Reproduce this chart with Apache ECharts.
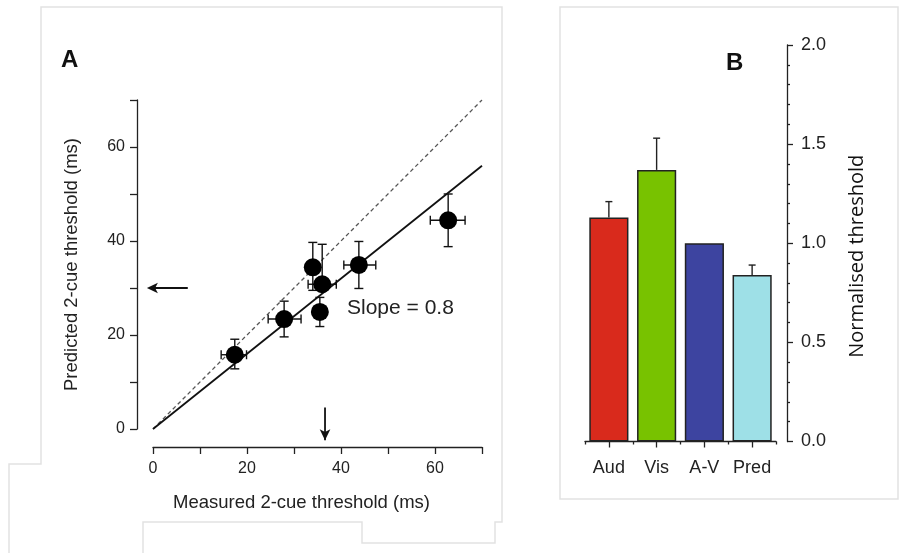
<!DOCTYPE html>
<html><head><meta charset="utf-8">
<script src="https://cdn.jsdelivr.net/npm/echarts@6/dist/echarts.min.js"></script>
<style>html,body{margin:0;padding:0;background:#fff}#c{width:899px;height:553px}</style>
</head><body><div id="c"></div>
<script>
// ---- Panel A data ----
const measured   = [17.4, 27.9, 34.0, 36.0, 35.5, 43.8, 62.8];
const predicted  = [15.8, 23.4, 34.4, 30.8, 24.9, 34.9, 44.4];
const measLo     = [14.5, 24.5, 32.8, 33.0, 34.5, 40.6, 59.0];
const measHi     = [19.9, 31.5, 35.2, 39.0, 36.5, 47.4, 66.4];
const predLo     = [12.8, 19.6, 29.5, 29.5, 21.8, 29.9, 38.8];
const predHi     = [19.1, 27.2, 39.7, 39.3, 28.0, 39.9, 50.0];
const fitX       = [0, 70];
const fitY       = [0, 56];
const unityX     = [0, 70];
const unityY     = [0, 70];
const arrowH     = [[7.4, 30], [-1.3, 30]];
const arrowV     = [[36.6, 4.6], [36.6, -2.4]];
const ticksA     = [0, 20, 40, 60];
// ---- Panel B data ----
const categoriesB = ['Aud', 'Vis', 'A-V', 'Pred'];
const valuesB     = [1.13, 1.37, 1.00, 0.84];
const errTopB     = [1.21, 1.53, null, 0.89];
const colorsB     = ['#d92a1c', '#78c200', '#3d44a0', '#9ee0e7'];
const ticksB      = [0, 0.5, 1.0, 1.5, 2.0];

const FONT = '"Liberation Sans", Arial, Helvetica, sans-serif';
const chart = echarts.init(document.getElementById('c'), null, {renderer: 'canvas'});

const errDataA = measured.map((m, i) => [m, predicted[i], measLo[i], measHi[i], predLo[i], predHi[i]]);
const errDataB = valuesB.map((v, i) => [i, v, errTopB[i]]);

const lineStyleBlack = {stroke: '#111', lineWidth: 1.4};

function arrowSeries(pts, rot) {
  return {type: 'line', xAxisIndex: 0, yAxisIndex: 0, data: pts, clip: false, z: 6, silent: true,
    showAllSymbol: true,
    symbol: (v, p) => p.dataIndex === pts.length - 1 ? 'arrow' : 'none',
    symbolSize: [8, 11], symbolRotate: rot,
    itemStyle: {color: '#111'},
    lineStyle: {color: '#111', width: 1.8}};
}

const option = {
  backgroundColor: '#fff',
  animation: false,
  textStyle: {fontFamily: FONT},
  graphic: [
    {type: 'polyline', shape: {points: [[9,553],[9,464],[41,464],[41,7],[502,7],[502,522],[495,522],[495,543],[362,543],[362,522],[143,522],[143,553]]},
     style: {stroke: '#e2e2e2', lineWidth: 1.5, fill: null}, z: -10},
    {type: 'rect', shape: {x: 560, y: 7, width: 338, height: 492}, style: {stroke: '#e2e2e2', lineWidth: 1.5, fill: null}, z: -10},
    {type: 'text', left: 61, top: 48, style: {text: 'A', font: 'bold 24px ' + FONT, fill: '#111'}},
    {type: 'text', left: 726, top: 51, style: {text: 'B', font: 'bold 24px ' + FONT, fill: '#111'}},
    {type: 'text', left: 347, top: 298, style: {text: 'Slope = 0.8', font: '21px ' + FONT, fill: '#222'}}
  ],
  grid: [
    {left: 153, right: 417, top: 100, bottom: 124},
    {left: 585, right: 123, top: 45, bottom: 111.5}
  ],
  xAxis: [
    {gridIndex: 0, type: 'value', min: 0, max: 70, interval: 10, offset: 18,
     axisLine: {show: true, onZero: false, lineStyle: {color: '#222', width: 1.3}},
     axisTick: {show: true, length: 7, lineStyle: {color: '#222', width: 1.3}},
     axisLabel: {fontSize: 16, color: '#222', margin: 14, formatter: v => ticksA.includes(v) ? String(v) : ''},
     splitLine: {show: false},
     name: 'Measured 2-cue threshold (ms)', nameLocation: 'middle', nameGap: 46,
     nameTextStyle: {fontSize: 18.5, color: '#222', padding: [0, 32, 0, 0]}},
    {gridIndex: 1, type: 'category', data: categoriesB, position: 'bottom',
     axisLine: {show: true, onZero: false, lineStyle: {color: '#222', width: 1.3}},
     axisTick: {show: true, alignWithLabel: true, length: 6, lineStyle: {color: '#222', width: 1.3}},
     axisLabel: {fontSize: 18, color: '#222', margin: 18, interval: 0},
     splitLine: {show: false}},
    {gridIndex: 1, type: 'category', data: categoriesB, position: 'bottom',
     axisLine: {show: false},
     axisTick: {show: true, interval: 0, length: 3, lineStyle: {color: '#222', width: 1.3}},
     axisLabel: {show: false}, splitLine: {show: false}}
  ],
  yAxis: [
    {gridIndex: 0, type: 'value', min: 0, max: 70, interval: 10, offset: 16,
     axisLine: {show: true, onZero: false, lineStyle: {color: '#222', width: 1.3}},
     axisTick: {show: true, length: 7, lineStyle: {color: '#222', width: 1.3}},
     axisLabel: {fontSize: 16, color: '#222', margin: 12, formatter: v => ticksA.includes(v) ? String(v) : ''},
     splitLine: {show: false},
     name: 'Predicted 2-cue threshold (ms)', nameLocation: 'middle', nameGap: 56,
     nameTextStyle: {fontSize: 18.5, color: '#222'}},
    {gridIndex: 1, type: 'value', position: 'right', min: 0, max: 2, interval: 0.5, offset: 11,
     axisLine: {show: true, onZero: false, lineStyle: {color: '#222', width: 1.3}},
     axisTick: {show: true, length: 6, lineStyle: {color: '#222', width: 1.3}},
     minorTick: {show: true, splitNumber: 5, length: 3, lineStyle: {color: '#222', width: 1.3}},
     axisLabel: {fontSize: 18, color: '#222', margin: 14, formatter: v => ticksB.includes(v) ? v.toFixed(1) : ''},
     splitLine: {show: false}, minorSplitLine: {show: false},
     name: 'Normalised threshold', nameLocation: 'middle', nameGap: 60,
     nameTextStyle: {fontSize: 20, color: '#111', fontFamily: '"Open Sans", sans-serif', padding: [0, 26, 0, 0]}}
  ],
  series: [
    {type: 'line', xAxisIndex: 0, yAxisIndex: 0, data: unityX.map((x, i) => [x, unityY[i]]),
     symbol: 'none', lineStyle: {color: '#555', width: 1.3, type: [4, 3]}, z: 2},
    {type: 'line', xAxisIndex: 0, yAxisIndex: 0, data: fitX.map((x, i) => [x, fitY[i]]),
     symbol: 'none', lineStyle: {color: '#111', width: 1.8}, z: 3},
    {type: 'custom', xAxisIndex: 0, yAxisIndex: 0, data: errDataA, z: 4,
     renderItem: (params, api) => {
       const x = api.value(0), y = api.value(1);
       const a = api.coord([api.value(2), y]), b = api.coord([api.value(3), y]);
       const c = api.coord([x, api.value(4)]), d = api.coord([x, api.value(5)]);
       const cap = 4.5;
       const L = (x1, y1, x2, y2) => ({type: 'line', shape: {x1, y1, x2, y2}, style: lineStyleBlack});
       return {type: 'group', children: [
         L(a[0], a[1], b[0], b[1]), L(a[0], a[1] - cap, a[0], a[1] + cap), L(b[0], b[1] - cap, b[0], b[1] + cap),
         L(c[0], c[1], d[0], d[1]), L(c[0] - cap, c[1], c[0] + cap, c[1]), L(d[0] - cap, d[1], d[0] + cap, d[1])
       ]};
     }},
    {type: 'scatter', xAxisIndex: 0, yAxisIndex: 0, data: measured.map((m, i) => [m, predicted[i]]),
     symbol: 'circle', symbolSize: 18, itemStyle: {color: '#000', opacity: 1}, z: 5},
    arrowSeries(arrowH, 90),
    arrowSeries(arrowV, 180),
    {type: 'bar', xAxisIndex: 1, yAxisIndex: 1, barCategoryGap: '18%',
     data: valuesB.map((v, i) => ({value: v, itemStyle: {color: colorsB[i]}})),
     itemStyle: {borderColor: '#222', borderWidth: 1.5}, z: 2},
    {type: 'custom', xAxisIndex: 1, yAxisIndex: 1, data: errDataB, z: 3,
     renderItem: (params, api) => {
       const top = errDataB[params.dataIndex][2];
       if (top == null) return null;
       const p0 = api.coord([api.value(0), api.value(1)]);
       const p1 = api.coord([api.value(0), top]);
       const cap = 3.5;
       return {type: 'group', children: [
         {type: 'line', shape: {x1: p0[0], y1: p0[1], x2: p1[0], y2: p1[1]}, style: {stroke: '#222', lineWidth: 1.4}},
         {type: 'line', shape: {x1: p1[0] - cap, y1: p1[1], x2: p1[0] + cap, y2: p1[1]}, style: {stroke: '#222', lineWidth: 1.4}}
       ]};
     }}
  ]
};
chart.setOption(option);
</script>
</body></html>
